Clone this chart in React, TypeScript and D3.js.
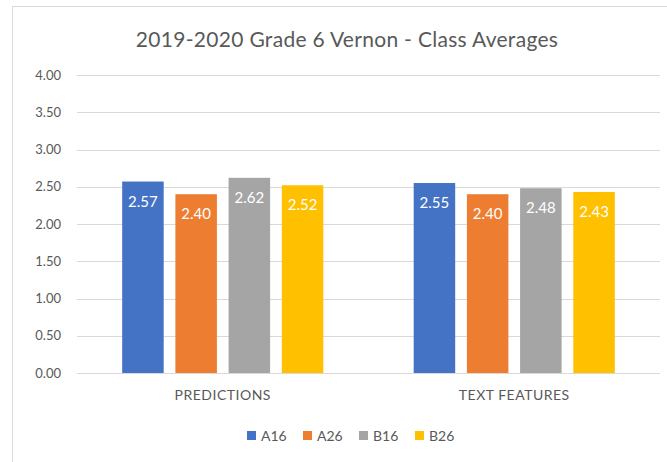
import React from "react";
import * as d3 from "d3";

const categories = ["PREDICTIONS", "TEXT FEATURES"];
const seriesNames = ["A16", "A26", "B16", "B26"];
const seriesColors = ["#4472C4", "#ED7D31", "#A5A5A5", "#FFC000"];
const A16 = [2.57, 2.55];
const A26 = [2.4, 2.4];
const B16 = [2.62, 2.48];
const B26 = [2.52, 2.43];
const seriesValues = [A16, A26, B16, B26];
const yTicks = [0, 0.5, 1, 1.5, 2, 2.5, 3, 3.5, 4];
const title = "2019-2020 Grade 6 Vernon - Class Averages";

const W = 667;
const H = 462;
const font = "Lato, 'Open Sans', sans-serif";

export default function App() {
  const left = 77;
  const right = 660;
  const top = 75;
  const bottom = 373;
  const y = d3.scaleLinear().domain([0, 4]).range([bottom, top]);
  const x0 = d3
    .scaleBand<string>()
    .domain(categories)
    .range([left, right])
    .paddingInner(0.31)
    .paddingOuter(0.155);
  const x1 = d3
    .scaleBand<string>()
    .domain(seriesNames)
    .range([0, x0.bandwidth()])
    .paddingInner(0.22)
    .paddingOuter(0);

  const legendX = d3.scalePoint<string>().domain(seriesNames).range([247, 415]);

  return (
    <svg
      width={W}
      height={H}
      style={{ position: "absolute", left: 0, top: 0, background: "#fff" }}
    >
      <rect x={0} y={0} width={W} height={H} fill="#fff" />
      <rect x={12.5} y={6.5} width={700} height={500} fill="#fff" stroke="#D9D9D9" strokeWidth={1} />
      <text
        x={347}
        y={47}
        textAnchor="middle"
        fontFamily={font}
        fontSize={21}
        letterSpacing={0.3}
        fill="#595959"
      >
        {title}
      </text>
      {yTicks.map((t) => (
        <g key={t}>
          <line
            x1={left}
            x2={right}
            y1={Math.round(y(t)) + 0.5}
            y2={Math.round(y(t)) + 0.5}
            stroke="#D9D9D9"
            strokeWidth={1}
          />
          <text
            x={61}
            y={y(t) + 4.5}
            textAnchor="end"
            fontFamily={font}
            fontSize={13}
            fill="#595959"
          >
            {t.toFixed(2)}
          </text>
        </g>
      ))}
      {categories.map((c, ci) => (
        <g key={c}>
          {seriesNames.map((s, si) => {
            const v = seriesValues[si][ci];
            const bx = (x0(c) as number) + (x1(s) as number);
            const bw = x1.bandwidth();
            return (
              <g key={s}>
                <rect
                  x={bx}
                  y={y(v)}
                  width={bw}
                  height={bottom - y(v)}
                  fill={seriesColors[si]}
                />
                <text
                  x={bx + bw / 2}
                  y={y(v) + 25}
                  textAnchor="middle"
                  fontFamily={font}
                  fontSize={15}
                  fill="#FFFFFF"
                >
                  {v.toFixed(2)}
                </text>
              </g>
            );
          })}
          <text
            x={(x0(c) as number) + x0.bandwidth() / 2}
            y={400}
            textAnchor="middle"
            fontFamily={font}
            fontSize={14}
            letterSpacing={0.5}
            fill="#595959"
          >
            {c}
          </text>
        </g>
      ))}
      <line x1={left} x2={right} y1={bottom + 0.5} y2={bottom + 0.5} stroke="#D9D9D9" />
      {seriesNames.map((s, si) => (
        <g key={s} transform={`translate(${legendX(s)},0)`}>
          <rect x={0} y={431} width={9} height={9} fill={seriesColors[si]} />
          <text x={14} y={440.5} fontFamily={font} fontSize={14} fill="#595959">
            {s}
          </text>
        </g>
      ))}
    </svg>
  );
}
